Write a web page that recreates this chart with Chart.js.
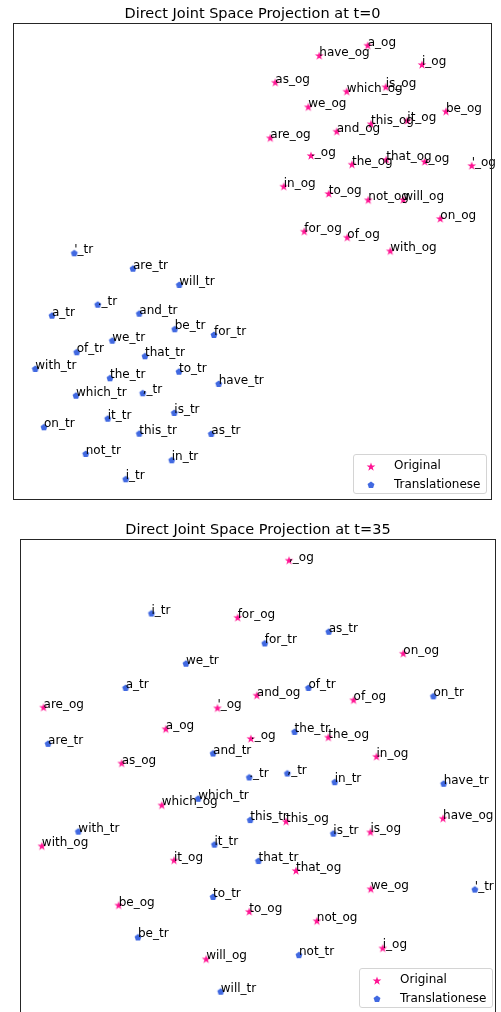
<!DOCTYPE html>
<html>
<head>
<meta charset="utf-8">
<script src="https://cdn.jsdelivr.net/npm/chart.js@4.4.0/dist/chart.umd.min.js"></script>
<style>
  body { margin: 0; width: 501px; height: 1012px; overflow: hidden; background: #fff; position: relative; font-family: "DejaVu Sans", sans-serif; }
  canvas.plot { position: absolute; left: 0; }
  .legend { position: absolute; width: 134px; height: 40px; box-sizing: border-box; border: 1px solid #d4d4d4; border-radius: 3px; background: rgba(255,255,255,0.85); font-size: 12px; color: #000; }
  .legend .row { position: absolute; left: 0; right: 0; height: 18px; }
  .legend .row canvas { position: absolute; top: 4px; left: 13px; }
  .legend .row span { position: absolute; left: 40px; top: 1px; white-space: nowrap; }
</style>
</head>
<body>
<canvas id="plotT0" class="plot" width="501" height="506" style="top:0"></canvas>
<canvas id="plotT35" class="plot" width="501" height="514" style="top:506px"></canvas>
<div class="legend" id="legendT0" style="left:353px;top:454px"></div>
<div class="legend" id="legendT35" style="left:359px;top:968px"></div>
<script>
// t=0 : Original
const t0OgLabels = ['a_og','have_og','i_og','as_og','which_og','is_og','we_og','be_og','it_og','this_og','and_og','are_og','._og','the_og','that_og',',_og',"'_og",'in_og','to_og','not_og','will_og','on_og','for_og','of_og','with_og'];
const t0OgX = [367.7,319.3,422,275.3,346.7,385.7,308.3,446,407.3,371,336.7,270.3,311,352,386.3,424.7,471.7,283.7,328.7,368.3,403.3,440.3,304.3,347.3,390.3];
const t0OgY = [45.7,56,65,82.7,91.7,87.3,107.3,111.7,121,124.3,131.7,138.3,156,164.7,160,162,166,186.7,194,200.3,200,219,231.7,237.7,251.3];

// t=0 : Translationese
const t0TrLabels = ["'_tr",'are_tr','will_tr','._tr','a_tr','and_tr','be_tr','for_tr','we_tr','of_tr','that_tr','with_tr','to_tr','the_tr','have_tr','which_tr',',_tr','is_tr','it_tr','on_tr','this_tr','as_tr','not_tr','in_tr','i_tr'];
const t0TrX = [74.3,133,179.3,97.7,52,139.3,174.7,214,112.3,76.7,145,35.3,179,110,218.7,76,142.7,174.3,107.7,44,139.3,211.3,85.7,171.7,125.7];
const t0TrY = [253.3,268.7,285,304.7,315.7,313.7,329.3,335,340.7,352.3,356.3,369,371.7,378.3,384,395.7,393.3,413,418.7,427.3,433.7,434,454,460.3,479.3];

// t=35 : Original
const t35OgLabels = ['for_og','are_og',"'_og",'a_og',',_og','on_og','and_og','of_og','the_og','._og','in_og','as_og','which_og','with_og','it_og','be_og','will_og','this_og','have_og','is_og','that_og','we_og','to_og','not_og','i_og'];
const t35OgX = [239,43.7,218.7,166.7,290.7,405.7,258.3,355.7,330.3,252.3,378.7,122.3,162.7,42,175,119.3,207.3,287.7,445.7,372.7,297.7,373,250.7,318.7,385];
const t35OgY = [618,708,708.7,729.7,560.7,654,696,700.7,738,739.3,757.3,764,806,847,861.3,906.3,960.3,822.3,819.3,833,871.7,890,912.7,922,949.3];

// t=35 : Translationese
const t35TrLabels = ['i_tr','we_tr','a_tr','are_tr','and_tr','as_tr','for_tr','of_tr','on_tr','the_tr','which_tr','with_tr','it_tr','to_tr','be_tr','will_tr','._tr',',_tr','in_tr','have_tr','this_tr','is_tr','that_tr',"'_tr",'not_tr'];
const t35TrX = [152.3,187,126.3,48.3,214.3,330.7,266.3,310.3,436,296.3,199.3,78.7,215.7,214.3,138.7,222,250.7,289,336.7,446.3,251.7,335.3,260,477.7,300.7];
const t35TrY = [613.7,664,688.3,744.3,754,632,643.7,688.3,696.7,732.3,799.3,832.3,845.3,897.7,938.3,992.7,778,774,782.7,784.3,820.7,834.3,861.7,890.3,956];

const seriesNames = ['Original', 'Translationese'];
const ogColor = '#ff1493';
const trColor = '#4169e1';

// marker images (matplotlib-like filled star and pentagon)
function makeMarker(kind, color) {
    const r = kind === 'star' ? 4.6 : 3.6;
    const c = document.createElement('canvas');
    const s = Math.ceil(r * 2 + 2);
    c.width = c.height = s;
    const g = c.getContext('2d');
    g.fillStyle = color;
    g.beginPath();
    const n = kind === 'star' ? 10 : 5;
    for (let i = 0; i < n; i++) {
        const rad = (kind === 'star' && i % 2) ? r * 0.382 : r;
        const a = -Math.PI / 2 + i * 2 * Math.PI / n;
        const px = s / 2 + rad * Math.cos(a);
        const py = s / 2 + rad * Math.sin(a);
        if (i === 0) g.moveTo(px, py); else g.lineTo(px, py);
    }
    g.closePath();
    g.fill();
    return c;
}

function toPoints(xs, ys) {
    return xs.map((x, i) => ({ x: x, y: ys[i] }));
}

// text next to each point, frame and title
const panelPlugin = {
    id: 'panel',
    afterDatasetsDraw(chart, args, opts) {
        const ctx = chart.ctx;
        const area = chart.chartArea;
        ctx.save();
        ctx.font = '12px "DejaVu Sans"';
        ctx.fillStyle = '#000';
        ctx.textAlign = 'left';
        ctx.textBaseline = 'alphabetic';
        chart.data.datasets.forEach((ds, di) => {
            const meta = chart.getDatasetMeta(di);
            meta.data.forEach((pt, i) => {
                ctx.fillText(ds.labels[i], pt.x, pt.y);
            });
        });
        ctx.strokeStyle = '#262626';
        ctx.lineWidth = 1;
        ctx.strokeRect(Math.round(area.left) + 0.5, Math.round(area.top) + 0.5,
                       Math.round(area.width) - 1, Math.round(area.height) - 1);
        ctx.font = '14.5px "DejaVu Sans"';
        ctx.textAlign = 'center';
        ctx.fillText(opts.text, (area.left + area.right) / 2, area.top - 5);
        ctx.restore();
    }
};

function buildChart(id, title, og, tr, padding, xr, yr) {
    return new Chart(document.getElementById(id), {
        type: 'scatter',
        data: {
            datasets: [{
                label: seriesNames[0],
                data: toPoints(og.x, og.y),
                labels: og.labels,
                pointStyle: makeMarker('star', ogColor),
                backgroundColor: ogColor
            }, {
                label: seriesNames[1],
                data: toPoints(tr.x, tr.y),
                labels: tr.labels,
                pointStyle: makeMarker('pentagon', trColor),
                backgroundColor: trColor
            }]
        },
        options: {
            responsive: false,
            animation: false,
            events: [],
            layout: { padding: padding },
            scales: {
                x: { type: 'linear', display: false, min: xr[0], max: xr[1] },
                y: { type: 'linear', display: false, reverse: true, min: yr[0], max: yr[1] }
            },
            plugins: {
                legend: { display: false },
                tooltip: { enabled: false },
                panel: { text: title }
            }
        },
        plugins: [panelPlugin]
    });
}

function buildLegend(id) {
    const box = document.getElementById(id);
    [['star', ogColor], ['pentagon', trColor]].forEach((m, i) => {
        const row = document.createElement('div');
        row.className = 'row';
        row.style.top = (i === 0 ? 2 : 20.5) + 'px';
        const mk = makeMarker(m[0], m[1]);
        mk.style.left = (17 - mk.width / 2) + 'px';
        row.appendChild(mk);
        const span = document.createElement('span');
        span.textContent = seriesNames[i];
        row.appendChild(span);
        box.appendChild(row);
    });
}

buildChart('plotT0', 'Direct Joint Space Projection at t=0',
    { labels: t0OgLabels, x: t0OgX, y: t0OgY },
    { labels: t0TrLabels, x: t0TrX, y: t0TrY },
    { left: 13, right: 9, top: 23, bottom: 6 }, [13, 492], [23, 500]);

buildChart('plotT35', 'Direct Joint Space Projection at t=35',
    { labels: t35OgLabels, x: t35OgX, y: t35OgY },
    { labels: t35TrLabels, x: t35TrX, y: t35TrY },
    { left: 20, right: 2, top: 33, bottom: 4 }, [20, 499], [539, 1016]);

buildLegend('legendT0');
buildLegend('legendT35');
</script>
</body>
</html>
